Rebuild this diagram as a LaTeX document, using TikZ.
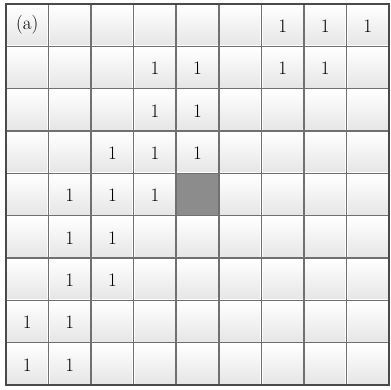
\documentclass[tikz,border=0pt]{standalone}
\definecolor{gridline}{HTML}{707070}
\definecolor{frame}{HTML}{4A4A4A}
\definecolor{cellbot}{HTML}{E6E6E6}
\definecolor{darkcell}{HTML}{8C8C8C}
\begin{document}
\begin{tikzpicture}[x=1pt,y=-1pt,
  cell/.style={minimum width=42pt,minimum height=42pt,inner sep=0pt,
    font=\fontsize{19}{22}\selectfont},
  inner line/.style={draw=gridline,line width=1.5pt},
  outer line/.style={draw=frame,line width=2.6pt}]
\pgfmathsetmacro{\cw}{42.56}
\pgfmathsetmacro{\ch}{42.33}
\useasboundingbox (0,0) rectangle (391,389);
\fill[white] (0,0) rectangle (391,389);
\foreach \i in {0,...,8} \foreach \j in {0,...,8} {
  \shade[top color=white,bottom color=cellbot]
    ({6+\i*\cw+1.5},{4+\j*\ch+1.5}) rectangle ({6+(\i+1)*\cw-1.5},{4+(\j+1)*\ch-1.5});
}
\fill[darkcell] ({6+4*\cw},{4+4*\ch}) rectangle ({6+5*\cw},{4+5*\ch});
\foreach \k in {1,...,8} {
  \draw[inner line] ({6+\k*\cw},4) -- ({6+\k*\cw},385);
  \draw[inner line] (6,{4+\k*\ch}) -- (389,{4+\k*\ch});
}
\draw[outer line] (6,4) rectangle (389,385);
\node[cell] (lab) at ({6+0.5*\cw},{4+0.5*\ch}) {(a)};
\foreach \r/\c in {0/6,0/7,0/8,1/3,1/4,1/6,1/7,2/3,2/4,3/2,3/3,3/4,4/1,4/2,4/3,5/1,5/2,6/1,6/2,7/0,7/1,8/0,8/1} {
  \node[cell] (n-\r-\c) at ({6+(\c+0.5)*\cw},{4+(\r+0.5)*\ch+1}) {1};
}
\end{tikzpicture}
\end{document}
